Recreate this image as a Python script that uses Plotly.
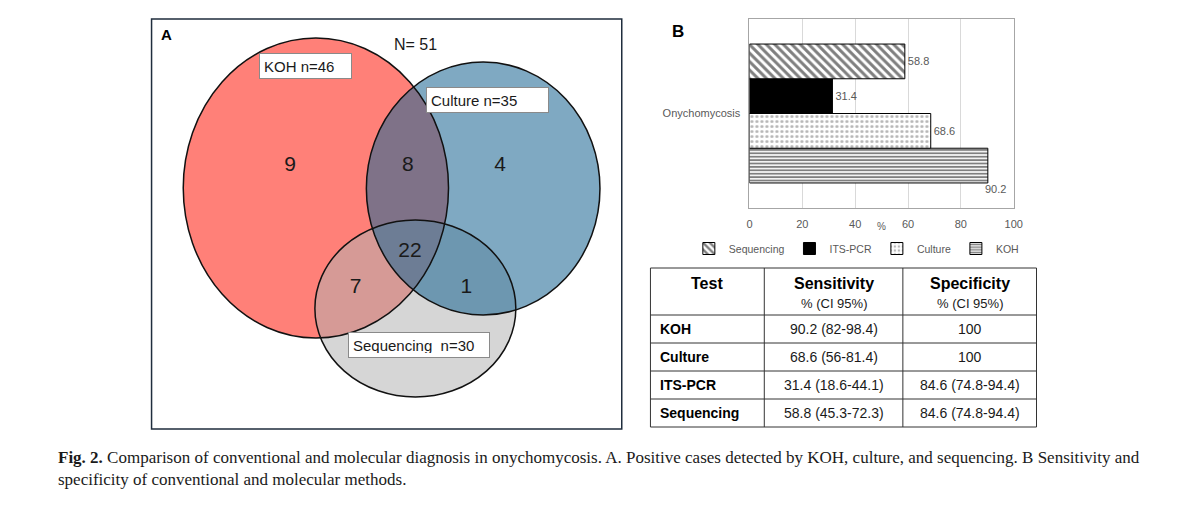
import plotly.graph_objects as go

# ---------------- Data ----------------
# Panel A: Venn diagram region counts
venn_regions = ["KOH only", "KOH & Culture", "Culture only",
                "KOH & Culture & Sequencing", "KOH & Sequencing", "Culture & Sequencing"]
venn_counts = [9, 8, 4, 22, 7, 1]
region_sets = [("KOH",), ("KOH", "Culture"), ("Culture",),
               ("KOH", "Culture", "Sequencing"), ("KOH", "Sequencing"), ("Culture", "Sequencing")]
set_names = ["KOH", "Culture", "Sequencing"]

# Panel B: sensitivity bar chart
methods = ["Sequencing", "ITS-PCR", "Culture", "KOH"]
sensitivity = [58.8, 31.4, 68.6, 90.2]
category = ["Onychomycosis"]
x_ticks = [0, 20, 40, 60, 80, 100]

# Table
table_header = ["Test", "Sensitivity", "Specificity"]
table_subheader = ["", "% (CI 95%)", "% (CI 95%)"]
tests = ["KOH", "Culture", "ITS-PCR", "Sequencing"]
sens_ci = ["90.2 (82-98.4)", "68.6 (56-81.4)", "31.4 (18.6-44.1)", "58.8 (45.3-72.3)"]
spec_ci = ["100", "100", "84.6 (74.8-94.4)", "84.6 (74.8-94.4)"]

caption = ("<b>Fig. 2.</b> Comparison of conventional and molecular diagnosis in onychomycosis. "
           "A. Positive cases detected by KOH, culture, and sequencing. B Sensitivity and<br>"
           "specificity of conventional and molecular methods.")

# derived
set_sizes = [sum(c for c, s in zip(venn_counts, region_sets) if n in s) for n in set_names]
total_n = sum(venn_counts)

# ---------------- Layout geometry (page pixel space) ----------------
OFF = 8                          # page body margin
PW, PH = 1200, 527               # page size
W, H = PW - 2 * OFF, PH - 2 * OFF  # figure size (fits inside the page)
FONT = "Liberation Sans"


def px(x):
    return (x - OFF) / W


def py(y):
    return 1 - (y - OFF) / H


circle_boxes = {  # x0, y0, x1, y1
    "KOH": (182, 38, 450, 338),
    "Culture": (367, 62, 603, 315),
    "Sequencing": (315, 220, 518, 397),
}
circle_fill = {
    "KOH": ("#FF8078", 1.0),
    "Sequencing": ("rgb(177,177,177)", 0.53),
    "Culture": ("rgb(30,104,148)", 0.57),
}
count_pos = [(290, 166), (409, 166), (502, 166), (411, 252), (356, 288), (468, 288)]
label_boxes = {  # center x, center y, width
    "KOH": (306, 65.5, 92),
    "Culture": (489, 99.5, 122),
    "Sequencing": (420.5, 344.5, 141),
}
tbl_cols = [654, 769, 909, 1044]
tbl_rows = [268, 315, 343, 371, 399, 427]

fig = go.Figure()

# Venn counts (text marks on the pixel-space axes)
fig.add_trace(go.Scatter(
    x=[p[0] for p in count_pos], y=[p[1] for p in count_pos],
    mode="text", text=[str(c) for c in venn_counts],
    textfont=dict(size=21, color="#1a1a1a", family=FONT),
    xaxis="x2", yaxis="y2", showlegend=False, hoverinfo="skip"))

# Panel B bars
styles = {
    "Sequencing": dict(color="white", pattern=dict(shape="\\", fgcolor="black", bgcolor="white",
                                                   size=6, solidity=0.5)),
    "ITS-PCR": dict(color="black"),
    "Culture": dict(color="white", pattern=dict(shape=".", fgcolor="#707070", bgcolor="white",
                                                size=5, solidity=0.3)),
    "KOH": dict(color="white", pattern=dict(shape="-", fgcolor="black", bgcolor="white",
                                            size=3.4, solidity=0.55)),
}
for i in range(len(methods) - 1, -1, -1):
    m, v = methods[i], sensitivity[i]
    mk = dict(styles[m])
    mk["line"] = dict(color="black", width=1)
    fig.add_trace(go.Bar(
        x=[v], y=category, orientation="h", name=m, marker=mk,
        text=[f"{v}"], textposition="none" if m == "KOH" else "outside",
        textfont=dict(size=11, color="#595959", family=FONT),
        cliponaxis=False, legendrank=i + 1, hoverinfo="x+name"))

shapes = []
# Panel A frame
shapes.append(dict(type="rect", xref="x2", yref="y2", x0=150, y0=19, x1=625, y1=429,
                   line=dict(color="#1F2D3D", width=1.5), fillcolor="rgba(0,0,0,0)"))
for name in ["KOH", "Sequencing", "Culture"]:
    x0, y0, x1, y1 = circle_boxes[name]
    col, op = circle_fill[name]
    shapes.append(dict(type="circle", xref="x2", yref="y2", x0=x0, y0=y0, x1=x1, y1=y1,
                       fillcolor=col, opacity=op, line=dict(width=0), layer="below"))
for name in set_names:
    x0, y0, x1, y1 = circle_boxes[name]
    shapes.append(dict(type="circle", xref="x2", yref="y2", x0=x0, y0=y0, x1=x1, y1=y1,
                       fillcolor="rgba(0,0,0,0)", line=dict(color="#111111", width=1.5)))
# Table grid
for xv in tbl_cols:
    shapes.append(dict(type="line", xref="x2", yref="y2", x0=xv, x1=xv,
                       y0=tbl_rows[0], y1=tbl_rows[-1], line=dict(color="#333333", width=1)))
for yv in tbl_rows:
    shapes.append(dict(type="line", xref="x2", yref="y2", x0=tbl_cols[0], x1=tbl_cols[-1],
                       y0=yv, y1=yv, line=dict(color="#333333", width=1)))

annotations = []


def ann(x, y, text, size, ref="x2", **kw):
    d = dict(xref=ref, yref="y2" if ref == "x2" else ref, x=x, y=y, text=text, showarrow=False,
             font=dict(size=size, color=kw.pop("color", "#1a1a1a"), family=kw.pop("family", FONT)))
    d.update(kw)
    annotations.append(d)


ann(158, 34, "<b>A</b>", 15, xanchor="left", color="black")
ann(417, 44, f"N= {total_n}", 16)
for name, size in zip(set_names, set_sizes):
    cx, cy, bw = label_boxes[name]
    sep = "  " if name == "Sequencing" else " "
    ann(cx, cy, f"{name}{sep}n={size}", 15, align="left", width=bw - 9, height=16,
        borderpad=4, bgcolor="white", bordercolor="#8a8a8a", borderwidth=1)
ann(674, 31, "<b>B</b>", 17, xanchor="left", color="black")

# Table text
col_centers = [(tbl_cols[k] + tbl_cols[k + 1]) / 2 for k in range(3)]
for k in range(3):
    ann(col_centers[k], 283, f"<b>{table_header[k]}</b>", 16, color="black")
    if table_subheader[k]:
        ann(col_centers[k], 303, table_subheader[k], 13, color="#1a1a1a")
for r in range(len(tests)):
    yc = (tbl_rows[r + 1] + tbl_rows[r + 2]) / 2
    ann(tbl_cols[0] + 8, yc, f"<b>{tests[r]}</b>", 14, xanchor="left", color="black")
    ann(col_centers[1], yc, sens_ci[r], 14)
    ann(col_centers[2], yc, spec_ci[r], 14)

# Panel B extras
annotations.append(dict(xref="x", yref="paper", x=50, y=py(226), text="%",
                        showarrow=False, font=dict(size=10, color="#595959", family=FONT)))
koh_i = methods.index("KOH")
annotations.append(dict(xref="x", yref="y", x=sensitivity[koh_i], y=category[0],
                        xanchor="left", xshift=-5, yshift=-75, text=f"{sensitivity[koh_i]}",
                        showarrow=False, font=dict(size=11, color="#595959", family=FONT)))
# Caption
annotations.append(dict(xref="paper", yref="paper", x=px(53), y=py(446),
                        xanchor="left", yanchor="top", align="left", text=caption,
                        showarrow=False, font=dict(size=17, color="#1a1a1a",
                                                   family="Liberation Serif")))

fig.update_layout(
    width=W, height=H, margin=dict(l=0, r=0, t=0, b=0),
    paper_bgcolor="white", plot_bgcolor="rgba(0,0,0,0)",
    barmode="group", bargap=0.265, bargroupgap=0,
    showlegend=True,
    legend=dict(orientation="h", x=px(862), xanchor="center", y=py(234), yanchor="top",
                font=dict(size=10.5, color="#595959", family=FONT), itemwidth=30,
                bgcolor="rgba(0,0,0,0)"),
    xaxis=dict(domain=[px(754), px(1021)], range=[0, 100], tickvals=x_ticks,
               showgrid=True, gridcolor="#D9D9D9", showline=True, mirror=True,
               linecolor="#A6A6A6", zeroline=False, ticks="", ticklabelstandoff=6,
               tickfont=dict(size=11, color="#595959", family=FONT), anchor="y",
               fixedrange=True),
    yaxis=dict(domain=[py(208), py(19)], showline=True, mirror=True,
               linecolor="#A6A6A6", ticks="", ticklabelstandoff=6,
               tickfont=dict(size=11, color="#595959", family=FONT), anchor="x",
               fixedrange=True),
    xaxis2=dict(domain=[0, 1], range=[OFF, OFF + W], visible=False, anchor="y2", fixedrange=True),
    yaxis2=dict(domain=[0, 1], range=[OFF + H, OFF], visible=False, anchor="x2", fixedrange=True),
    shapes=shapes, annotations=annotations,
)

fig.write_html("out.html")
